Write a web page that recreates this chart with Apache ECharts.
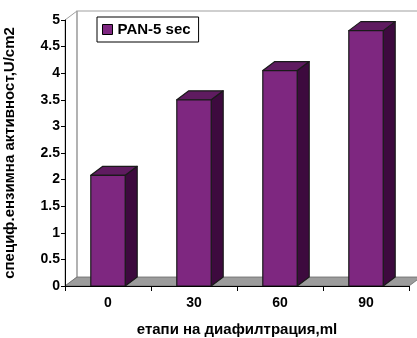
<!DOCTYPE html>
<html><head><meta charset="utf-8">
<script src="https://cdn.jsdelivr.net/npm/echarts@6/dist/echarts.min.js"></script>
<style>html,body{margin:0;padding:0;background:#fff}#c{width:417px;height:338px}</style>
</head><body><div id="c"></div>
<script>
const categories = ['0', '30', '60', '90'];
const seriesName = 'PAN-5 sec';
const values = [2.08, 3.5, 4.05, 4.8];
const yTicks = [0, 0.5, 1, 1.5, 2, 2.5, 3, 3.5, 4, 4.5, 5];
const xTitle = 'етапи на диафилтрация,ml';
const yTitle = 'специф.ензимна активност,U/cm2';

const DX = 12, DY = -9;
const FRONT = '#7e2780', TOPC = '#5f1b60', SIDE = '#3d0a3e', EDGE = '#1a1a1a';
const font = 'Arial, "Liberation Sans", sans-serif';

const chart = echarts.init(document.getElementById('c'), null, {renderer: 'canvas'});

function renderRoom(params, api) {
  const cs = params.coordSys;
  const x0 = cs.x, x1 = cs.x + cs.width, y0 = cs.y, y1 = cs.y + cs.height;
  const g = '#a0a0a0';
  return {type: 'group', children: [
    {type: 'polygon', shape: {points: [[x0, y1], [x0 + DX, y1 + DY], [x0 + DX, y0 + DY], [x0, y0]]},
     style: {fill: '#fff', stroke: g, lineWidth: 1}},
    {type: 'polyline', shape: {points: [[x0 + DX, y1 + DY], [x0 + DX, y0 + DY], [x1 + DX + 20, y0 + DY]]},
     style: {fill: null, stroke: g, lineWidth: 1.2}},
    {type: 'polygon', shape: {points: [[x0, y1], [x1, y1], [x1 + DX, y1 + DY], [x0 + DX, y1 + DY]]},
     style: {fill: '#9c9c9c', stroke: '#6a6a6a', lineWidth: 0.8}}
  ]};
}

function renderBar(params, api) {
  const i = api.value(0), v = api.value(1);
  const top = api.coord([i, v]);
  const base = api.coord([i, 0]);
  const bw = api.size([1, 0])[0] * 0.4;
  const l = top[0] - bw / 2, r = top[0] + bw / 2, t = top[1], b = base[1];
  const st = {stroke: EDGE, lineWidth: 1.2, lineJoin: 'round'};
  return {type: 'group', children: [
    {type: 'polygon', shape: {points: [[r, t], [r + DX, t + DY], [r + DX, b + DY], [r, b]]},
     style: Object.assign({fill: SIDE}, st)},
    {type: 'polygon', shape: {points: [[l, t], [r, t], [r + DX, t + DY], [l + DX, t + DY]]},
     style: Object.assign({fill: TOPC}, st)},
    {type: 'rect', shape: {x: l, y: t, width: bw, height: b - t},
     style: Object.assign({fill: FRONT}, st)}
  ]};
}

chart.setOption({
  animation: false,
  backgroundColor: '#fff',
  grid: {left: 65, right: 8, top: 20, bottom: 52, containLabel: false, outerBoundsMode: 'none'},
  legend: {
    data: [seriesName], left: 97, top: 17, orient: 'horizontal',
    padding: [5, 8, 5, 5], itemGap: 0, itemWidth: 10, itemHeight: 10, icon: 'rect',
    borderColor: '#000', borderWidth: 1, backgroundColor: '#fff',
    textStyle: {fontFamily: font, fontWeight: 'bold', fontSize: 15, color: '#000', padding: [0, 0, 0, 0]},
    itemStyle: {color: FRONT, borderColor: '#000', borderWidth: 1}
  },
  xAxis: {
    type: 'category', data: categories, boundaryGap: true,
    axisLine: {show: true, lineStyle: {color: '#000', width: 1}},
    axisTick: {show: true, length: 5, inside: false, lineStyle: {color: '#000'}},
    axisLabel: {fontFamily: font, fontWeight: 'bold', fontSize: 14, color: '#000', margin: 10},
    name: xTitle, nameLocation: 'middle', nameGap: 36,
    nameTextStyle: {fontFamily: font, fontWeight: 'bold', fontSize: 15, color: '#000'},
    z: 10
  },
  yAxis: {
    type: 'value', min: 0, max: 5, interval: 0.5,
    axisLine: {show: true, lineStyle: {color: '#000', width: 1}},
    axisTick: {show: true, length: 4, lineStyle: {color: '#000'}},
    splitLine: {show: false},
    axisLabel: {fontFamily: font, fontWeight: 'bold', fontSize: 14, color: '#000', margin: 5,
      formatter: function (v) { return yTicks.indexOf(v) >= 0 ? String(v) : ''; }},
    name: yTitle, nameLocation: 'middle', nameGap: 48, nameRotate: 90,
    nameTextStyle: {fontFamily: font, fontWeight: 'bold', fontSize: 15, color: '#000'},
    z: 10
  },
  series: [
    {type: 'custom', name: 'room', renderItem: renderRoom, data: [[0, 0]], clip: false, silent: true, z: 1,
     encode: {x: 0, y: 1}},
    {type: 'custom', name: seriesName, renderItem: renderBar, clip: false, z: 5,
     itemStyle: {color: FRONT, borderColor: '#000', borderWidth: 1},
     data: values.map(function (v, i) { return [i, v]; }), encode: {x: 0, y: 1}}
  ]
});
</script></body></html>
